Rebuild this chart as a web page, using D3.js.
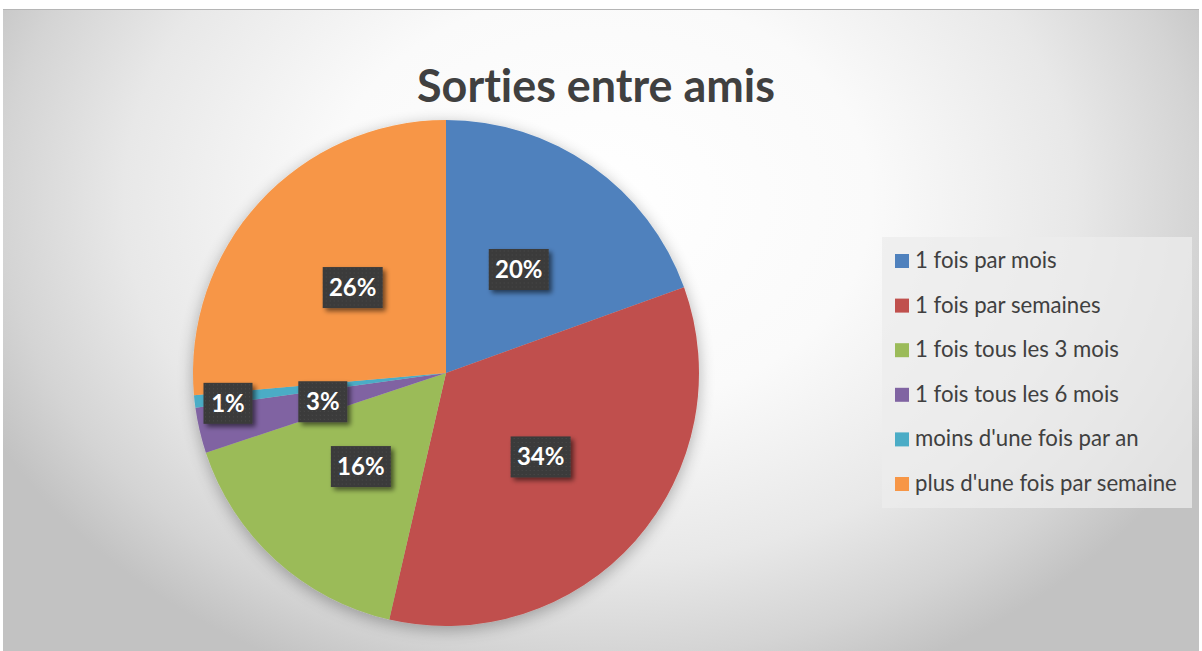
<!DOCTYPE html>
<html><head><meta charset="utf-8">
<script src="https://cdn.jsdelivr.net/npm/d3@7"></script>
<style>
html,body{margin:0;padding:0;background:#fff;}
svg{display:block;}
text{font-variant-ligatures:none;font-feature-settings:"liga" 0;}
</style></head>
<body>
<svg id="chart" width="1202" height="651"></svg>
<script>
const title = "Sorties entre amis";
const categories = ["1 fois par mois","1 fois par semaines","1 fois tous les 3 mois","1 fois tous les 6 mois","moins d'une fois par an","plus d'une fois par semaine"];
const values = [19.5, 34.1, 16.3, 2.9, 0.8, 26.4];
const colors = ["#4F81BD","#C0504D","#9BBB59","#8064A2","#4BACC6","#F79646"];

const svg = d3.select("#chart");
const W = 1202, H = 651;
const defs = svg.append("defs");

const bg = defs.append("radialGradient").attr("id","bg")
  .attr("gradientUnits","userSpaceOnUse").attr("cx",600).attr("cy",200).attr("r",680)
  .attr("gradientTransform","translate(600,200) scale(1,0.765) translate(-600,-200)");
[[0,"#ffffff"],[0.4,"#fafafa"],[0.7,"#e8e8e8"],[0.88,"#d4d4d4"],[1,"#c2c2c2"]].forEach(s=>
  bg.append("stop").attr("offset",s[0]).attr("stop-color",s[1]));

const sh = defs.append("filter").attr("id","pieShadow").attr("x","-20%").attr("y","-20%").attr("width","140%").attr("height","140%");
sh.append("feGaussianBlur").attr("in","SourceAlpha").attr("stdDeviation",8);
sh.append("feOffset").attr("dx",0).attr("dy",4).attr("result","b");
sh.append("feComponentTransfer").append("feFuncA").attr("type","linear").attr("slope",0.3);
const m1 = sh.append("feMerge"); m1.append("feMergeNode"); m1.append("feMergeNode").attr("in","SourceGraphic");

const ls = defs.append("filter").attr("id","lblShadow").attr("x","-30%").attr("y","-30%").attr("width","160%").attr("height","160%");
ls.append("feGaussianBlur").attr("in","SourceAlpha").attr("stdDeviation",2.5);
ls.append("feOffset").attr("dx",3).attr("dy",3);
ls.append("feComponentTransfer").append("feFuncA").attr("type","linear").attr("slope",0.55);
const m2 = ls.append("feMerge"); m2.append("feMergeNode"); m2.append("feMergeNode").attr("in","SourceGraphic");

const pat = defs.append("pattern").attr("id","dots").attr("width",4).attr("height",4).attr("patternUnits","userSpaceOnUse");
pat.append("rect").attr("width",4).attr("height",4).attr("fill","#3b3b3b");
pat.append("rect").attr("x",1).attr("y",1).attr("width",1).attr("height",1).attr("fill","#4a4a4a");

// chart area
svg.append("rect").attr("x",3).attr("y",9).attr("width",1196).attr("height",H-9).attr("fill","url(#bg)");
svg.append("line").attr("x1",3).attr("x2",1199).attr("y1",9.5).attr("y2",9.5).attr("stroke","#b5b5b5").attr("stroke-width",1);

// title
const t = svg.append("text").attr("x",596).attr("y",102).attr("text-anchor","middle")
  .attr("font-family","Lato, 'Open Sans', sans-serif").attr("font-weight","bold").attr("font-size",40)
  .attr("fill","#404040").text(title);
const tw = t.node().getComputedTextLength();
t.attr("font-size", 40*358/tw);

// pie
const cx = 446, cy = 373, R = 253;
const pie = d3.pie().sort(null).value(d=>d)(values);
const arc = d3.arc().innerRadius(0).outerRadius(R);
const g = svg.append("g").attr("transform",`translate(${cx},${cy})`);
g.append("g").attr("filter","url(#pieShadow)").selectAll("path").data(pie).join("path")
  .attr("d",arc).attr("fill",(d,i)=>colors[i]);

// labels
const total = d3.sum(values);
const lg = g.append("g");
pie.forEach((d,i)=>{
  const tiny = (d.value/total) < 0.02;
  const r = tiny ? R*0.87 : R*0.5;
  const a = tiny ? d.startAngle : (d.startAngle+d.endAngle)/2;
  const x = r*Math.sin(a), y = -r*Math.cos(a);
  const txt = Math.round(d.value) + "%";
  const gg = lg.append("g").attr("transform",`translate(${x},${y})`);
  const bw = txt.length>2 ? 60 : 49, bh = 41;
  gg.append("rect").attr("x",-bw/2).attr("y",-bh/2).attr("width",bw).attr("height",bh)
    .attr("fill","url(#dots)").attr("filter","url(#lblShadow)");
  gg.append("text").attr("text-anchor","middle").attr("y",8.5)
    .attr("font-family","Lato, 'Open Sans', sans-serif").attr("font-weight","bold").attr("font-size",24)
    .attr("fill","#ffffff").text(txt);
});

// legend
const lgX = 882, lgY = 237;
svg.append("rect").attr("x",lgX).attr("y",lgY).attr("width",310).attr("height",271).attr("fill","#ececec").attr("opacity",0.75);
const items = svg.append("g").selectAll("g").data(categories).join("g")
  .attr("transform",(d,i)=>`translate(${lgX+13},${261 + i*44.6})`);
items.append("rect").attr("x",0).attr("y",-7).attr("width",14).attr("height",14).attr("fill",(d,i)=>colors[i]);
const lt = items.append("text").attr("x",20).attr("y",7).attr("font-family","Lato, 'Open Sans', sans-serif")
  .attr("font-size",20).attr("fill","#404040").text(d=>d);
const maxW = d3.max(lt.nodes(), n=>n.getComputedTextLength());
lt.attr("font-size", 20*262/maxW);
</script>
</body></html>
